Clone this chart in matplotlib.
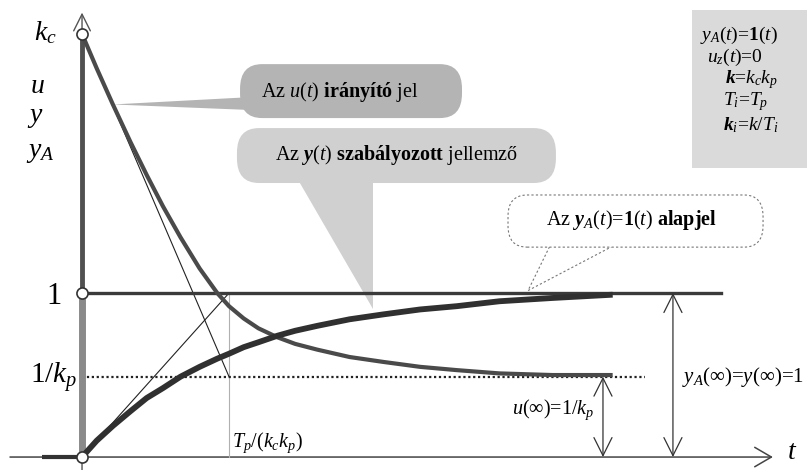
import matplotlib.pyplot as plt
from matplotlib.patches import FancyBboxPatch, Polygon

plt.rcParams['font.family'] = ['Liberation Serif', 'DejaVu Serif']
plt.rcParams['mathtext.fontset'] = 'custom'
plt.rcParams['mathtext.rm'] = 'Liberation Serif'
plt.rcParams['mathtext.it'] = 'Liberation Serif:italic'
plt.rcParams['mathtext.bf'] = 'Liberation Serif:bold'
plt.rcParams['mathtext.bfit'] = 'Liberation Serif:italic:bold'

# time in units of the closed loop time constant T_p/(k_c k_p)
t = [0, 0.1, 0.21, 0.33, 0.44, 0.55, 0.67, 0.8, 0.92, 1.0, 1.1, 1.2, 1.33,
     1.45, 1.6, 1.82, 2.05, 2.3, 2.55, 2.84, 3.2, 3.61]
# controller output u(t)
u = [2.58, 2.37, 2.15, 1.92, 1.72, 1.53, 1.34, 1.15, 1.00, 0.92, 0.845, 0.785,
     0.73, 0.69, 0.655, 0.61, 0.58, 0.55, 0.53, 0.51, 0.50, 0.50]
# controlled variable y(t)
y = [0, 0.10, 0.19, 0.28, 0.36, 0.42, 0.49, 0.55, 0.60, 0.63, 0.67, 0.70,
     0.74, 0.77, 0.80, 0.84, 0.87, 0.90, 0.92, 0.95, 0.97, 0.99]

kc = u[0]          # u(0) = k_c
u_inf = 0.49       # u(inf) = 1/k_p
y_ref = 1.0        # y_A(t) = 1(t)
tau = 1.0          # T_p/(k_c k_p)
t_pre = -0.27      # signals are zero before the step
t_ref_end = 4.35
t_uinf_end = 3.83

fig = plt.figure(figsize=(8.07, 4.70), dpi=100)
ax = fig.add_axes([0, 0, 1, 1])
ax.set_xlim(-0.558, 4.932)
ax.set_ylim(-0.079, 2.787)
ax.axis('off')

# axes with open arrow heads
ax.annotate('', xy=(0, 2.71), xytext=(0, -0.08),
            arrowprops=dict(arrowstyle='->,head_length=1.2,head_width=0.6',
                            color='#555555', lw=1, shrinkA=0, shrinkB=0), zorder=1)
ax.annotate('', xy=(4.70, 0), xytext=(-0.49, 0),
            arrowprops=dict(arrowstyle='->,head_length=1.2,head_width=0.7',
                            color='#444444', lw=1.1, shrinkA=0, shrinkB=0), zorder=1)


def callout(x0, y0, x1, y1, tail, fc, ec='none', ls='-', r=0.13):
    wedge = Polygon(tail, closed=True, fc=fc, ec=ec, ls=ls, lw=0.8, zorder=2)
    box = FancyBboxPatch((x0, y0), x1 - x0, y1 - y0,
                         boxstyle=f'round,pad=0,rounding_size={r}',
                         fc=fc, ec=ec, ls=ls, lw=0.8, zorder=2)
    ax.add_patch(wedge)
    ax.add_patch(box)


# speech bubbles
callout(1.075, 2.067, 2.585, 2.396,
        [(1.15, 2.195), (1.15, 2.116), (t[2], u[2])], '#b4b4b4', r=0.15)
ax.text(1.755, 2.226, r'Az $u(t)$ $\mathbf{irányító}$ jel', fontsize=14.5,
        ha='center', va='center', zorder=3)

callout(1.054, 1.671, 3.224, 2.006,
        [(1.463, 1.70), (1.98, 1.70), (1.98, 0.90)], '#d0d0d0', r=0.15)
ax.text(2.14, 1.841, r'Az $\mathbfit{y}(t)$ $\mathbf{szabályozott}$ jellemző',
        fontsize=14.5, ha='center', va='center', zorder=3)

callout(2.898, 1.28, 4.633, 1.598,
        [(3.19, 1.30), (3.64, 1.30), (3.034, y_ref + 0.015)], 'white',
        ec='#777777', ls=(0, (2, 2)))
ax.text(3.74, 1.445, r'Az $\mathbfit{y}_{A}(t)$=$\mathbf{1}(t)$ $\mathbf{alapjel}$',
        fontsize=14.5, ha='center', va='center', zorder=3)

# parameter box
ax.add_patch(FancyBboxPatch((4.15, 1.762), 0.79, 0.964, boxstyle='square,pad=0',
                            fc='#dadada', ec='none', zorder=2))
params = [r'$y_A(t)$=$\mathbf{1}(t)$', r'$u_z(t)$=0', r'$\mathbfit{k}$=$k_ck_p$',
          r'$T_i$=$T_p$', r'$\mathbfit{k}_i$=$k/T_i$']
params_x = [4.204, 4.252, 4.374, 4.361, 4.361]
params_y = [2.573, 2.439, 2.299, 2.165, 2.024]
for s, px, py in zip(params, params_x, params_y):
    ax.text(px, py, s, fontsize=14, ha='left', va='center', zorder=3)

# construction lines
ax.plot([tau, tau], [0, y_ref], color='#b0b0b0', lw=0.8, zorder=2)
ax.plot([0, tau], [kc, u_inf], color='#222222', lw=0.8, zorder=3)
ax.plot([0, tau], [0, y_ref], color='#222222', lw=0.8, zorder=3)
ax.plot([0, t_uinf_end], [u_inf, u_inf], color='#222222', lw=1.6,
        ls=(0, (1, 1.2)), zorder=3)

# reference signal and the step of u at t=0
ax.plot([0, t_ref_end], [y_ref, y_ref], color='#3a3a3a', lw=2.4, zorder=3)
ax.plot([t_pre, 0], [0, 0], color='#333333', lw=3, solid_capstyle='butt', zorder=3)
ax.plot([0, 0], [0, kc], color='#505050', lw=3.5, solid_capstyle='butt', zorder=3)
ax.plot([0, 0], [0, y_ref], color='#8a8a8a', lw=5, solid_capstyle='butt', zorder=3)

# responses
ax.plot(t, u, color='#4a4a4a', lw=3.0, solid_capstyle='butt', zorder=4)
ax.plot(t, y, color='#303030', lw=4.2, solid_capstyle='butt', zorder=4)

ax.plot([0, 0, 0], [kc, y_ref, 0], 'o', ms=8, mfc='white', mec='#333333',
        mew=1.2, zorder=6)

# steady state arrows
ax.annotate('', xy=(3.544, u_inf), xytext=(3.544, 0),
            arrowprops=dict(arrowstyle='<->,head_length=1.3,head_width=0.65',
                            color='#333333', lw=0.9, shrinkA=0, shrinkB=0))
ax.annotate('', xy=(4.02, y_ref), xytext=(4.02, 0),
            arrowprops=dict(arrowstyle='<->,head_length=1.3,head_width=0.65',
                            color='#333333', lw=0.9, shrinkA=0, shrinkB=0))
ax.text(3.204, 0.287, r'$u(\infty)$=1/$k_p$', fontsize=14.5, ha='center', va='center')
ax.text(4.08, 0.49, r'$y_A(\infty)$=$y(\infty)$=1', fontsize=15, ha='left', va='center')

# axis labels
ax.text(-0.25, 2.59, r'$k_c$', fontsize=20, ha='center', va='center')
ax.text(-0.306, 2.262, r'$u$', fontsize=20, ha='center', va='center')
ax.text(-0.32, 2.07, r'$y$', fontsize=20, ha='center', va='center')
ax.text(-0.286, 1.86, r'$y_A$', fontsize=20, ha='center', va='center')
ax.text(-0.136, 0.98, '1', fontsize=22, ha='right', va='center')
ax.text(-0.034, 0.49, r'1/$k_p$', fontsize=21, ha='right', va='center')
ax.text(1.02, 0.09, r'$T_p$/($k_ck_p$)', fontsize=14.5, ha='left', va='center')
ax.text(4.83, 0.03, r'$t$', fontsize=20, ha='center', va='center')

fig.savefig('out.png', dpi=100, facecolor='white')
